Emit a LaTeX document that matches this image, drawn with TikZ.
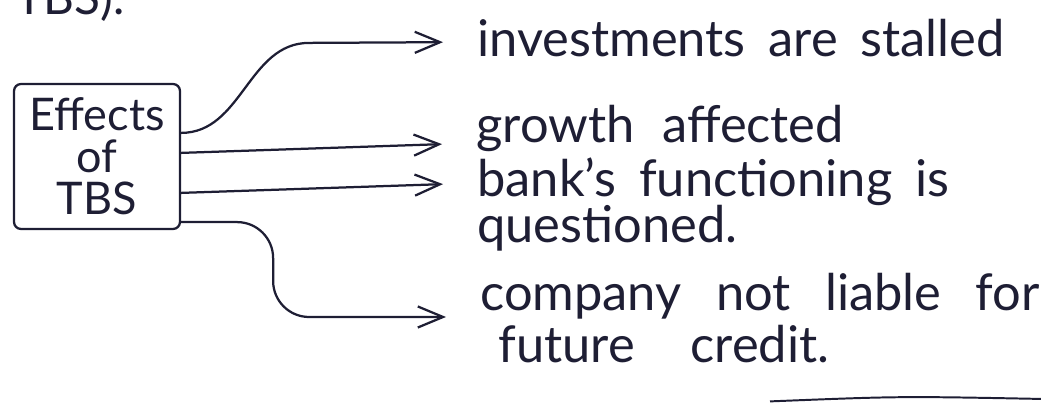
\documentclass[tikz,border=0pt]{standalone}
\usepackage{fontspec}
\setmainfont{Lato}
\usetikzlibrary{arrows.meta, positioning, calc}
\definecolor{ink}{RGB}{30,30,52}
\newcommand\handfont{\fontsize{36}{40}\selectfont\spaceskip 0.45em\relax}

\begin{document}
\begin{tikzpicture}
\tikzset{
>={Straight Barb[length=18pt,width=15pt]},
  effectbox/.style={
    rectangle,
    rounded corners=5pt,
    draw=ink, line width=1.6pt,
    text=ink,
    minimum width=4.15cm,
    minimum height=3.625cm,
    align=center,
    font=\fontsize{32}{30}\selectfont},
  note/.style={
    inner sep=0pt,
    anchor=base west,
    text=ink,
    font=\handfont},
  gaps/.style={execute at begin node={\spaceskip #1\relax}},
  flow/.style={draw=ink, line width=1.6pt, ->, shorten >=0.85cm},
}
\useasboundingbox (0,0) rectangle (26.025,10.075);

\node[note, font=\fontsize{34}{40}\selectfont] (heading) at (0.375,9.7) {TBS).};
\node[effectbox] (tbs) at (2.425,6.1625) {Effects\\of\\TBS};

\node[note] (invest) at (11.925,8.65) {investments are stalled};
\node[note, gaps=0.55em] (growth) at (11.9,6.5) {growth affected};
\node[note] (bank) at (11.925,5.15) {bank's functioning is};
\node[note] (questioned) at ([yshift=-1.15cm]bank.base west) {questioned.};
\node[note, gaps=0.68em] (company) at (12.0,2.3) {company not liable for};
\node[note, gaps=1.1em] (credit) at ([xshift=0.45cm,yshift=-1.3cm]company.base west) {future credit.};

\draw[flow] ([yshift=0.59cm]tbs.east) 
to[out=0,in=180] ++(3.2,2.25) -- 
([yshift=0.375cm]invest.base west);

\draw[flow] ([yshift=0.09cm]tbs.east) -- (growth.base west);

\draw[flow] ([yshift=-0.91cm]tbs.east) -- ([yshift=0.35cm]bank.base west);

\draw[flow, rounded corners=0.9cm] ([yshift=-1.64cm]tbs.east) 
-- ++(2.3,0) |- 
([yshift=-0.15cm]company.base west);

% rule under the last line
\coordinate (rule start) at (19.25,0.04);
\coordinate (rule end) at (26.1,0.1);
\draw[ink, line width=1.4pt] (rule start) .. controls (22.5,0.17) .. (rule end);

\end{tikzpicture}
\end{document}
